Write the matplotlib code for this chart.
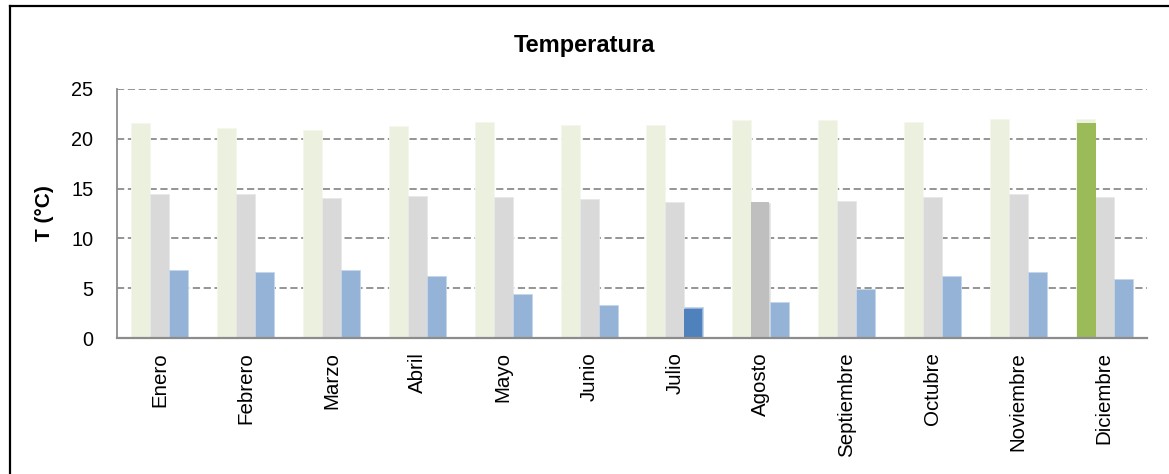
import numpy as np
import matplotlib
matplotlib.use("Agg")
import matplotlib.pyplot as plt
from matplotlib.lines import Line2D

plt.rcParams['font.family'] = ['Liberation Sans', 'DejaVu Sans']

meses = ["Enero", "Febrero", "Marzo", "Abril", "Mayo", "Junio", "Julio",
         "Agosto", "Septiembre", "Octubre", "Noviembre", "Diciembre"]
t_max = [21.55, 21.1, 20.9, 21.3, 21.65, 21.4, 21.4, 21.85, 21.85, 21.65, 21.95, 22.0]
t_med = [14.43, 14.43, 14.1, 14.3, 14.2, 14.0, 13.7, 13.6, 13.8, 14.2, 14.43, 14.2]
t_min = [6.86, 6.66, 6.86, 6.2, 4.45, 3.35, 3.08, 3.58, 4.95, 6.2, 6.66, 5.9]

# highlighted extremes: (month, value)
destacado_max = ("Diciembre", 21.6)
destacado_med = ("Agosto", 13.65)
destacado_min = ("Julio", 2.94)

W, H = 1169, 474
fig = plt.figure(figsize=(W / 100, H / 100), dpi=100)
ax = fig.add_axes([117 / W, 1 - 338 / H, (1147 - 117) / W, (338 - 89) / H])

x = np.arange(len(meses))
w = 0.222
c_max, c_med, c_min = "#EBF1DE", "#D9D9D9", "#95B3D7"
ax.bar(x - w, t_max, w, color=c_max, edgecolor="#F4F7EC", linewidth=0.6, zorder=3)
ax.bar(x, t_med, w, color=c_med, edgecolor="#E8E8E8", linewidth=0.6, zorder=3)
ax.bar(x + w, t_min, w, color=c_min, edgecolor="#C5D6EB", linewidth=0.6, zorder=3)

i = meses.index(destacado_max[0])
ax.bar(i - w + 0.02, destacado_max[1], w * 0.98, color="#9BBB59", zorder=4)
i = meses.index(destacado_med[0])
ax.bar(i - 0.01, destacado_med[1], w * 0.92, color="#BFBFBF", zorder=4)
i = meses.index(destacado_min[0])
ax.bar(i + w - 0.01, destacado_min[1], w * 0.95, color="#4F81BD", zorder=4)

ax.set_xlim(-0.5, len(meses) - 0.5)
ax.set_ylim(0, 25)
ax.set_yticks([0, 5, 10, 15, 20, 25])
ax.set_xticks(x)
ax.set_xticklabels(meses, rotation=90, fontsize=14.8, va="top")
ax.tick_params(axis="x", length=0, pad=10)
ax.tick_params(axis="y", length=0, pad=17, labelsize=14.3)

ax.yaxis.grid(True, color="#8C8C8C", linestyle=(0, (4, 2)), linewidth=1.3, zorder=0)
ax.set_axisbelow(True)
for s in ("top", "right"):
    ax.spines[s].set_visible(False)
ax.spines["left"].set_color("#8C8C8C")
ax.spines["left"].set_linewidth(1.3)
ax.spines["bottom"].set_color("#8C8C8C")
ax.spines["bottom"].set_linewidth(1.6)
ax.spines["bottom"].set_zorder(5)

ax.set_ylabel("T (°C)", fontsize=15, fontweight="bold")
ax.yaxis.set_label_coords(-(117 - 54) / (1147 - 117), 0.5)

fig.text(584 / W, 1 - 45 / H, "Temperatura", ha="center", va="center",
         fontsize=17, fontweight="bold")

# caption above the frame and the frame lines
fig.text(-18 / W, 1 + 9 / H, "Figura 3. Temperatura", ha="left", va="center",
         fontsize=12, family=["Liberation Serif", "DejaVu Serif"])
fig.add_artist(Line2D([9.5 / W, 1168 / W], [1 - 5.5 / H, 1 - 5.5 / H],
                      transform=fig.transFigure, color="black", linewidth=1.6))
fig.add_artist(Line2D([9.5 / W, 9.5 / W], [0, 1 - 5.5 / H],
                      transform=fig.transFigure, color="black", linewidth=1.6))

fig.savefig("out.png", dpi=100)
